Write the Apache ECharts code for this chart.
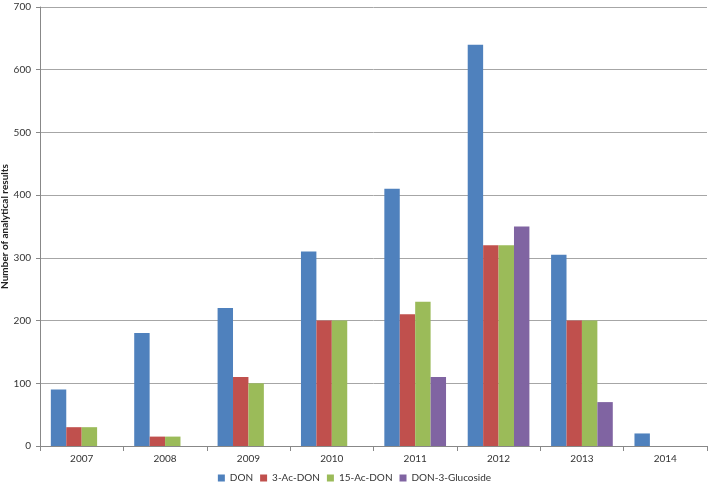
<!DOCTYPE html>
<html><head><meta charset="utf-8">
<script src="https://cdn.jsdelivr.net/npm/echarts@6/dist/echarts.min.js"></script>
<style>html,body{margin:0;padding:0;background:#fff}#c{width:709px;height:488px}</style>
</head><body><div id="c"></div>
<script>
var years = ['2007','2008','2009','2010','2011','2012','2013','2014'];
var seriesNames = ['DON','3-Ac-DON','15-Ac-DON','DON-3-Glucoside'];
var don = [90,180,220,310,410,640,305,20];
var ac3 = [30,15,110,200,210,320,200,0];
var ac15 = [30,15,100,200,230,320,200,0];
var glu = [0,0,0,0,110,350,70,0];
var colors = ['#4F81BD','#C0504D','#9BBB59','#8064A2'];
var yTicks = [0,100,200,300,400,500,600,700];

var font = 'Lato, "Open Sans", sans-serif';
var data = [don, ac3, ac15, glu];
var chart = echarts.init(document.getElementById('c'), null, {renderer:'canvas'});
chart.setOption({
  animation:false,
  color: colors,
  grid:{left:40,right:2,top:7,bottom:42,containLabel:false,outerBoundsMode:'none'},
  legend:{
    bottom:0, left:'center',
    itemWidth:7, itemHeight:7, itemGap:7,
    icon:'rect',
    textStyle:{fontFamily:font,fontSize:10,color:'#333'},
    data: seriesNames
  },
  xAxis:{
    type:'category', data: years,
    axisLine:{lineStyle:{color:'#888'}},
    axisTick:{show:true,length:5,lineStyle:{color:'#888'}},
    axisLabel:{fontFamily:font,fontSize:10,color:'#333',margin:8}
  },
  yAxis:{
    type:'value', min:yTicks[0], max:yTicks[yTicks.length-1], interval:100,
    name:'Number of analytical results', nameLocation:'middle', nameGap:30,
    nameMoveOverlap:false,
    nameTextStyle:{fontFamily:font,fontSize:10,fontWeight:'bold',color:'#222'},
    axisLine:{show:true,lineStyle:{color:'#888'}},
    axisTick:{show:true,length:4,lineStyle:{color:'#888'}},
    axisLabel:{fontFamily:font,fontSize:10,color:'#333',margin:9},
    splitLine:{lineStyle:{color:'#a6a6a6'}}
  },
  series: seriesNames.map(function(n,i){
    return {name:n,type:'bar',data:data[i],barGap:'0%',barCategoryGap:'26%',
      itemStyle:{color:colors[i]}};
  })
});
</script></body></html>
